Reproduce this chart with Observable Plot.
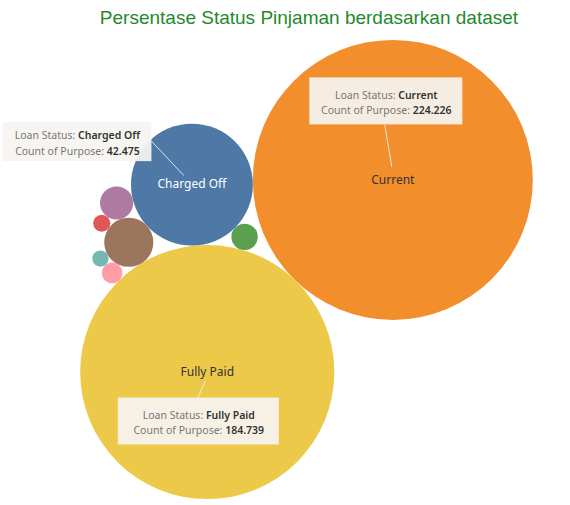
<!DOCTYPE html>
<html><head><meta charset="utf-8">
<script src="https://cdn.jsdelivr.net/npm/d3@7"></script>
<script src="https://cdn.jsdelivr.net/npm/@observablehq/plot@0.6"></script>
<style>
body{margin:0;background:#fff;}
#title{height:35px;line-height:35px;font-family:"Liberation Sans",Arial,sans-serif;font-size:19px;color:#1f8a2c;text-align:center;padding-left:48px;white-space:nowrap}
#chart svg{display:block}
</style></head><body>
<div id="title">Persentase Status Pinjaman berdasarkan dataset</div>
<div id="chart"></div>
<script>
// ---- data ----
const statuses = ["Charged Off","Current","Default","Does not meet the credit policy. Status:Charged Off","Does not meet the credit policy. Status:Fully Paid","Fully Paid","In Grace Period","Late (16-30 days)","Late (31-120 days)"];
const counts = [42475,224226,832,761,1988,184739,3146,1218,6900];
const labeled = ["Charged Off","Current","Fully Paid"];
const dimensionName = "Loan Status";
const measureName = "Count of Purpose";

// ---- annotation placement (pixel offsets from the bubble centre) ----
const notes = [
  {status:"Charged Off", box:[-189,-40,-62,-23], line:[-41,-44,-8,-9]},
  {status:"Current",     box:[-83,70,-102,-55], line:[-8,-55,-1,-13]},
  {status:"Fully Paid",  box:[-89,72,26,73],    line:[-2,9,-10,27]}
];

const W = 570, H = 470, TOP = 35, RMAX = 140;
const fmt = d3.formatLocale({decimal:",", thousands:".", grouping:[3], currency:["",""]}).format(",d");
const rScale = d3.scaleSqrt().domain([0, d3.max(counts)]).range([0, RMAX]);
const items = statuses.map((s,i)=>({status:s, value:counts[i], r:rScale(counts[i])}));
const bySize = d3.sort(items, d => -d.value);

// ---- greedy bubble packing ----
function tangent(a, b, r){
  const dx=b.x-a.x, dy=b.y-a.y, d=Math.hypot(dx,dy);
  const ra=a.r+r, rb=b.r+r;
  if (d===0 || d>ra+rb || d<Math.abs(ra-rb)) return [];
  const t=(ra*ra-rb*rb+d*d)/(2*d), h=Math.sqrt(Math.max(0,ra*ra-t*t));
  const ux=dx/d, uy=dy/d, px=a.x+t*ux, py=a.y+t*uy;
  return [{x:px-h*uy,y:py+h*ux},{x:px+h*uy,y:py-h*ux}];
}
const order = [bySize[1], bySize[2], bySize[0], ...bySize.slice(3)];
const placed = [];
order[0].x = -order[0].r; order[0].y = 0; placed.push(order[0]);
order[1].x = order[1].r;  order[1].y = 0; placed.push(order[1]);
for (const c of order.slice(2)){
  let best=null, bd=Infinity;
  for (let i=0;i<placed.length;i++) for (let j=i+1;j<placed.length;j++){
    for (const p of tangent(placed[i], placed[j], c.r)){
      if (placed.some(q => Math.hypot(q.x-p.x,q.y-p.y) < q.r+c.r-1e-6)) continue;
      const dd = Math.hypot(p.x,p.y);
      if (dd < bd - 1e-9){bd=dd; best=p;}
    }
  }
  c.x=best.x; c.y=best.y; placed.push(c);
}
// orientation
{
  const C=bySize[0], F=bySize[1], O=bySize[2];
  const target = 134*Math.PI/180;
  const rot = target - Math.atan2(F.y-C.y, F.x-C.x);
  const cx=C.x, cy=C.y, cs=Math.cos(rot), sn=Math.sin(rot);
  for (const d of items){ const vx=d.x-cx, vy=d.y-cy; d.x=cx+vx*cs-vy*sn; d.y=cy+vx*sn+vy*cs; }
  const cross=(F.x-C.x)*(O.y-C.y)-(F.y-C.y)*(O.x-C.x);
  if (cross<0){
    const ux=Math.cos(target), uy=Math.sin(target);
    for (const d of items){ const vx=d.x-cx, vy=d.y-cy, dot=vx*ux+vy*uy; d.x=cx+2*dot*ux-vx; d.y=cy+2*dot*uy-vy; }
  }
  const x0=d3.min(items,d=>d.x-d.r), x1=d3.max(items,d=>d.x+d.r);
  const y0=d3.min(items,d=>d.y-d.r), y1=d3.max(items,d=>d.y+d.r);
  const sx=306-(x0+x1)/2, sy=269-(y0+y1)/2;
  for (const d of items){ d.x+=sx; d.y+=sy; }
}

const byStatus = new Map(items.map(d=>[d.status,d]));
const lum = c => d3.lab(c).l;
const colorOf = s => d3.schemeTableau10[statuses.indexOf(s)];
const labelData = items.filter(d => labeled.includes(d.status));
const lightLabels = labelData.filter(d => lum(colorOf(d.status)) < 55);
const darkLabels = labelData.filter(d => lum(colorOf(d.status)) >= 55);
const noteData = notes.map(n => {
  const c = byStatus.get(n.status);
  return {status:n.status, value:c.value,
    x1:c.x+n.box[0], x2:c.x+n.box[1], y1:c.y+n.box[2], y2:c.y+n.box[3],
    lx1:c.x+n.line[0], ly1:c.y+n.line[1], lx2:c.x+n.line[2], ly2:c.y+n.line[3]};
});

const plot = Plot.plot({
  width:W, height:H, margin:0,
  style:{fontFamily:"'Noto Sans', sans-serif", background:"#fff"},
  x:{domain:[0,W], range:[0,W], axis:null},
  y:{domain:[TOP,TOP+H], range:[0,H], axis:null},
  r:{type:"sqrt", domain:[0,d3.max(counts)], range:[0,RMAX]},
  color:{domain:statuses, range:d3.schemeTableau10},
  marks:[
    Plot.dot(items, {x:"x", y:"y", r:"value", fill:"status"}),
    Plot.text(lightLabels, {x:"x", y:"y", text:"status", fill:"white", fontSize:12}),
    Plot.text(darkLabels, {x:"x", y:"y", text:"status", fill:"#333", fontSize:12}),
    Plot.link(noteData, {x1:"lx1", y1:"ly1", x2:"lx2", y2:"ly2", stroke:"#f4f1ea", strokeOpacity:0.85, strokeWidth:1}),
    Plot.rect(noteData, {x1:"x1", x2:"x2", y1:"y1", y2:"y2", fill:"#f6f4f0", fillOpacity:0.93}),
    Plot.text(noteData, {x:d=>(d.x1+d.x2)/2, y:d=>(d.y1+d.y2)/2, lineHeight:1.5, fontSize:10.5, fill:"#333", className:"annot",
      text:d=>`${dimensionName}: ${d.status}\n${measureName}: ${fmt(d.value)}`})
  ]
});
plot.querySelectorAll(".annot tspan, .annot text").forEach(el => {
  if (el.querySelector("tspan")) return;
  const s = el.textContent, k = s.indexOf(": ");
  if (k < 0) return;
  el.textContent = "";
  const a = document.createElementNS("http://www.w3.org/2000/svg","tspan");
  a.textContent = s.slice(0,k+2); a.setAttribute("fill","#777");
  const b = document.createElementNS("http://www.w3.org/2000/svg","tspan");
  b.textContent = s.slice(k+2); b.setAttribute("font-weight","600"); b.setAttribute("fill","#333");
  el.appendChild(a); el.appendChild(b);
});
document.getElementById("chart").appendChild(plot);
</script>
</body></html>
